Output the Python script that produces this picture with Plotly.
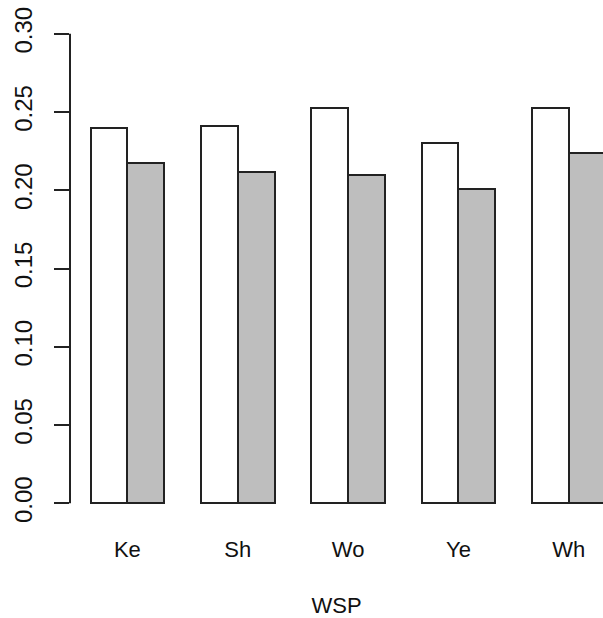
import plotly.graph_objects as go

# Data
categories = ["Ke", "Sh", "Wo", "Ye", "Wh"]
series_a = [0.240, 0.241, 0.2525, 0.2305, 0.2525]   # white bars
series_b = [0.2175, 0.2115, 0.2095, 0.2005, 0.2240]  # grey bars
y_ticks = [0.00, 0.05, 0.10, 0.15, 0.20, 0.25, 0.30]
x_title = "WSP"

FONT = "Liberation Sans, Arial, sans-serif"

# barplot(beside=TRUE) layout: each group = 2 unit-wide bars + 1 unit gap
left_pos = [1.5 + 3 * i for i in range(len(categories))]
right_pos = [2.5 + 3 * i for i in range(len(categories))]
centers = [2 + 3 * i for i in range(len(categories))]

fig = go.Figure()
fig.add_trace(go.Bar(
    x=left_pos, y=series_a, width=1.0,
    marker=dict(color="white", line=dict(color="#222222", width=2)),
    showlegend=False, hoverinfo="skip",
))
fig.add_trace(go.Bar(
    x=right_pos, y=series_b, width=1.0,
    marker=dict(color="#BEBEBE", line=dict(color="#222222", width=2)),
    showlegend=False, hoverinfo="skip",
))

# y-axis line spanning only the tick range
fig.add_shape(type="line", xref="paper", yref="y",
              x0=0, x1=0, y0=y_ticks[0], y1=y_ticks[-1],
              line=dict(color="#222222", width=2))

fig.update_layout(
    width=603, height=618,
    margin=dict(l=70, r=0, t=15, b=96),
    plot_bgcolor="white", paper_bgcolor="white",
    font=dict(family=FONT, size=23, color="#111111"),
    bargap=0,
    xaxis=dict(
        range=[0.44, 14.93],
        showgrid=False, zeroline=False, showline=False,
        tickmode="array", tickvals=centers, ticktext=categories,
        ticks="", ticklabelstandoff=12,
        tickfont=dict(size=22),
        title=dict(text=x_title, font=dict(size=22), standoff=36),
    ),
    yaxis=dict(
        range=[-0.012, 0.312],
        showgrid=False, zeroline=False, showline=False,
        tickmode="array", tickvals=y_ticks,
        ticktext=[f"{v:.2f}" for v in y_ticks],
        ticks="outside", ticklen=15, tickwidth=2, tickcolor="#222222",
        tickangle=-90, ticklabelstandoff=12,
        tickfont=dict(size=24),
    ),
)

fig.write_html("out.html")
